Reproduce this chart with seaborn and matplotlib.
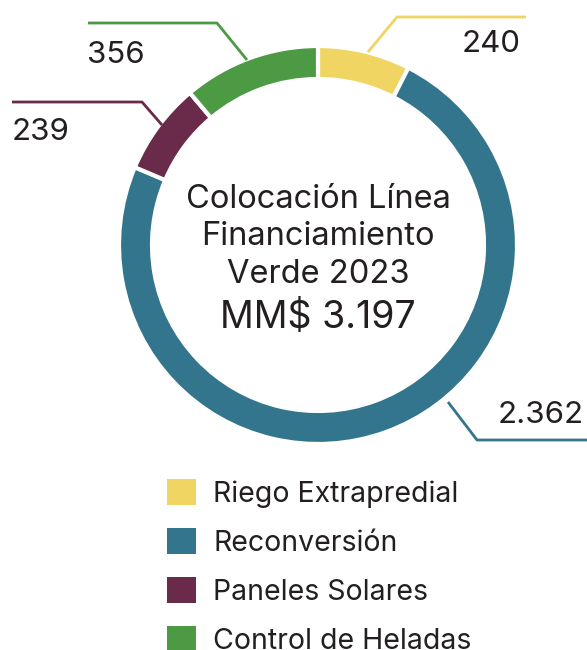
import matplotlib
matplotlib.use("Agg")
import matplotlib.pyplot as plt
from matplotlib.patches import Patch
import seaborn as sns

# Datos
categorias = ['Riego Extrapredial', 'Reconversión', 'Paneles Solares', 'Control de Heladas']
montos = [240, 2362, 239, 356]
etiquetas = ['240', '2.362', '239', '356']
colores = ['#F0D562', '#33758C', '#6A2A4A', '#4D9A45']
titulo = ['Colocación Línea', 'Financiamiento', 'Verde 2023']
total_txt = 'MM$ 3.197'

sns.set_theme(style='white')
plt.rcParams['font.family'] = ['Inter', 'DejaVu Sans']
texto = '#231F20'

W, H = 587, 650
fig = plt.figure(figsize=(W / 100, H / 100), dpi=100)
ax = fig.add_axes([0, 0, 1, 1])


def yy(y):
    return H - y


# Dona
ax.pie(montos, colors=sns.color_palette(colores), startangle=90, counterclock=False,
       radius=199, center=(318, yy(245)),
       wedgeprops=dict(width=33, edgecolor='white', linewidth=3))
ax.set_xlim(0, W)
ax.set_ylim(0, H)
ax.set_aspect('auto')
ax.axis('off')

# Texto central (línea base de cada renglón)
for linea, base in zip(titulo, [208, 245, 283]):
    ax.text(318, yy(base), linea, ha='center', va='baseline', fontsize=23.5,
            color=texto)
ax.text(318, yy(328), total_txt, ha='center', va='baseline', fontsize=27,
        color=texto)

# Líneas guía y etiquetas
guias = [
    ([368, 397, 526], [52, 17, 17], 521, 52, 'right'),
    ([448, 477, 587], [402, 440, 440], 584, 423, 'right'),
    ([162, 142, 12], [125, 102, 102], 12, 140, 'left'),
    ([247, 217, 88], [60, 23, 23], 87, 63, 'left'),
]
for (xs, ys, tx, ty, ha), col, lab in zip(guias, colores, etiquetas):
    ax.plot(xs, [yy(v) for v in ys], color=col, lw=2, solid_capstyle='butt')
    ax.text(tx, yy(ty), lab, ha=ha, va='baseline', fontsize=22.5, color=texto)

# Leyenda
handles = [Patch(facecolor=c, edgecolor='none') for c in colores]
leg = fig.legend(handles, categorias, loc='upper left',
                 bbox_to_anchor=(167 / W, 1 - 479 / H), frameon=False,
                 fontsize=20.5, handlelength=1.02, handleheight=1.02,
                 handletextpad=0.6, labelspacing=0.72, borderpad=0,
                 borderaxespad=0)
for t in leg.get_texts():
    t.set_color(texto)

fig.savefig('out.png', dpi=100)
